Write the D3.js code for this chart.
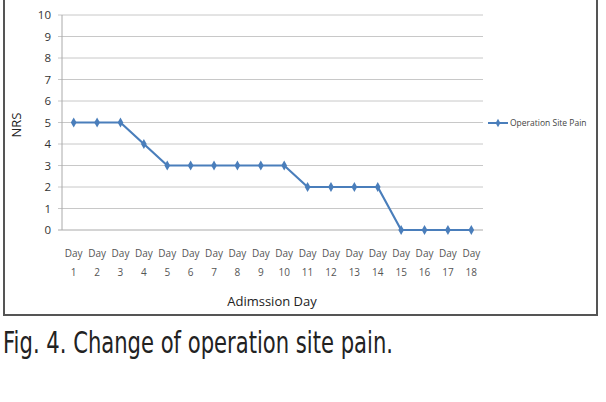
<!DOCTYPE html>
<html>
<head>
<meta charset="utf-8">
<script src="https://cdn.jsdelivr.net/npm/d3@7"></script>
<style>
  body { margin: 0; background: #fff; }
  svg { display: block; }
</style>
</head>
<body>
<svg></svg>
<script>
const days = ['1', '2', '3', '4', '5', '6', '7', '8', '9', '10', '11', '12', '13', '14', '15', '16', '17', '18'];
const painValues = [5, 5, 5, 4, 3, 3, 3, 3, 3, 3, 2, 2, 2, 2, 0, 0, 0, 0];
const yTicks = [0, 1, 2, 3, 4, 5, 6, 7, 8, 9, 10];
const seriesName = 'Operation Site Pain';

const available = { width: 606, height: 402 };
const plot = { left: 62, right: 483, top: 15, bottom: 230 };
const blue = '#4a7ebb';

const svg = d3.select('svg')
  .attr('width', available.width)
  .attr('height', available.height);

// outer frame
svg.append('rect')
  .attr('x', 4).attr('y', -5)
  .attr('width', 593).attr('height', 320)
  .attr('fill', 'none')
  .attr('stroke', '#555')
  .attr('stroke-width', 2);

const xScale = d3.scaleBand().domain(days).range([plot.left, plot.right]);
const yScale = d3.scaleLinear().domain([0, 10]).range([plot.bottom, plot.top]);

// grid lines
svg.append('g')
  .selectAll('line')
  .data(yTicks)
  .join('line')
  .attr('x1', plot.left - 4)
  .attr('x2', plot.right)
  .attr('y1', d => yScale(d))
  .attr('y2', d => yScale(d))
  .attr('stroke', d => d === 0 ? '#aaa' : '#c8c8c8')
  .attr('stroke-width', 1);

// y axis line
svg.append('line')
  .attr('x1', plot.left).attr('x2', plot.left)
  .attr('y1', plot.top).attr('y2', plot.bottom)
  .attr('stroke', '#aaa');

// y tick labels
svg.append('g')
  .selectAll('text')
  .data(yTicks)
  .join('text')
  .attr('x', 51)
  .attr('y', d => yScale(d) + 4)
  .attr('text-anchor', 'end')
  .attr('font-family', 'Open Sans, sans-serif')
  .attr('font-size', 11.5)
  .attr('fill', '#333')
  .text(d => d);

// y title
svg.append('text')
  .attr('transform', `translate(21, 125) rotate(-90)`)
  .attr('text-anchor', 'middle')
  .attr('font-family', 'Open Sans, sans-serif')
  .attr('font-size', 13)
  .attr('fill', '#222')
  .text('NRS');

// x tick labels
const xLab = svg.append('g')
  .selectAll('g')
  .data(days)
  .join('g')
  .attr('transform', d => `translate(${xScale(d) + xScale.bandwidth() / 2}, 0)`);
xLab.append('text')
  .attr('y', 257)
  .attr('text-anchor', 'middle')
  .attr('font-family', 'Open Sans, sans-serif')
  .attr('font-size', 10)
  .attr('fill', '#555')
  .text('Day');
xLab.append('text')
  .attr('y', 276)
  .attr('text-anchor', 'middle')
  .attr('font-family', 'Open Sans, sans-serif')
  .attr('font-size', 10)
  .attr('fill', '#555')
  .text(d => d);

// x title
svg.append('text')
  .attr('x', 272).attr('y', 306)
  .attr('text-anchor', 'middle')
  .attr('font-family', 'Open Sans, sans-serif')
  .attr('font-size', 13)
  .attr('fill', '#222')
  .text('Adimssion Day');

// series
const line = d3.line()
  .x((d, i) => xScale(days[i]) + xScale.bandwidth() / 2)
  .y(d => yScale(d));

svg.append('path')
  .datum(painValues)
  .attr('d', line)
  .attr('fill', 'none')
  .attr('stroke', blue)
  .attr('stroke-width', 2.2);

const diamond = d3.symbol().type(d3.symbolDiamond).size(28);
svg.append('g')
  .selectAll('path')
  .data(painValues)
  .join('path')
  .attr('d', diamond)
  .attr('transform', (d, i) => `translate(${xScale(days[i]) + xScale.bandwidth() / 2}, ${yScale(d)})`)
  .attr('fill', blue);

// legend
const legend = svg.append('g').attr('transform', 'translate(488, 123)');
legend.append('line')
  .attr('x1', 0).attr('x2', 20)
  .attr('stroke', blue).attr('stroke-width', 2);
legend.append('path')
  .attr('d', d3.symbol().type(d3.symbolDiamond).size(20))
  .attr('transform', 'translate(10, 0)')
  .attr('fill', blue);
legend.append('text')
  .attr('x', 22).attr('y', 3)
  .attr('font-family', 'Open Sans, sans-serif')
  .attr('font-size', 8.5)
  .attr('fill', '#444')
  .text(seriesName);

// caption
svg.append('text')
  .attr('x', 3).attr('y', 353)
  .attr('font-family', 'DejaVu Sans, sans-serif')
  .attr('font-size', 30)
  .attr('textLength', 390)
  .attr('lengthAdjust', 'spacingAndGlyphs')
  .attr('fill', '#222')
  .text('Fig. 4. Change of operation site pain.');
</script>
</body>
</html>
